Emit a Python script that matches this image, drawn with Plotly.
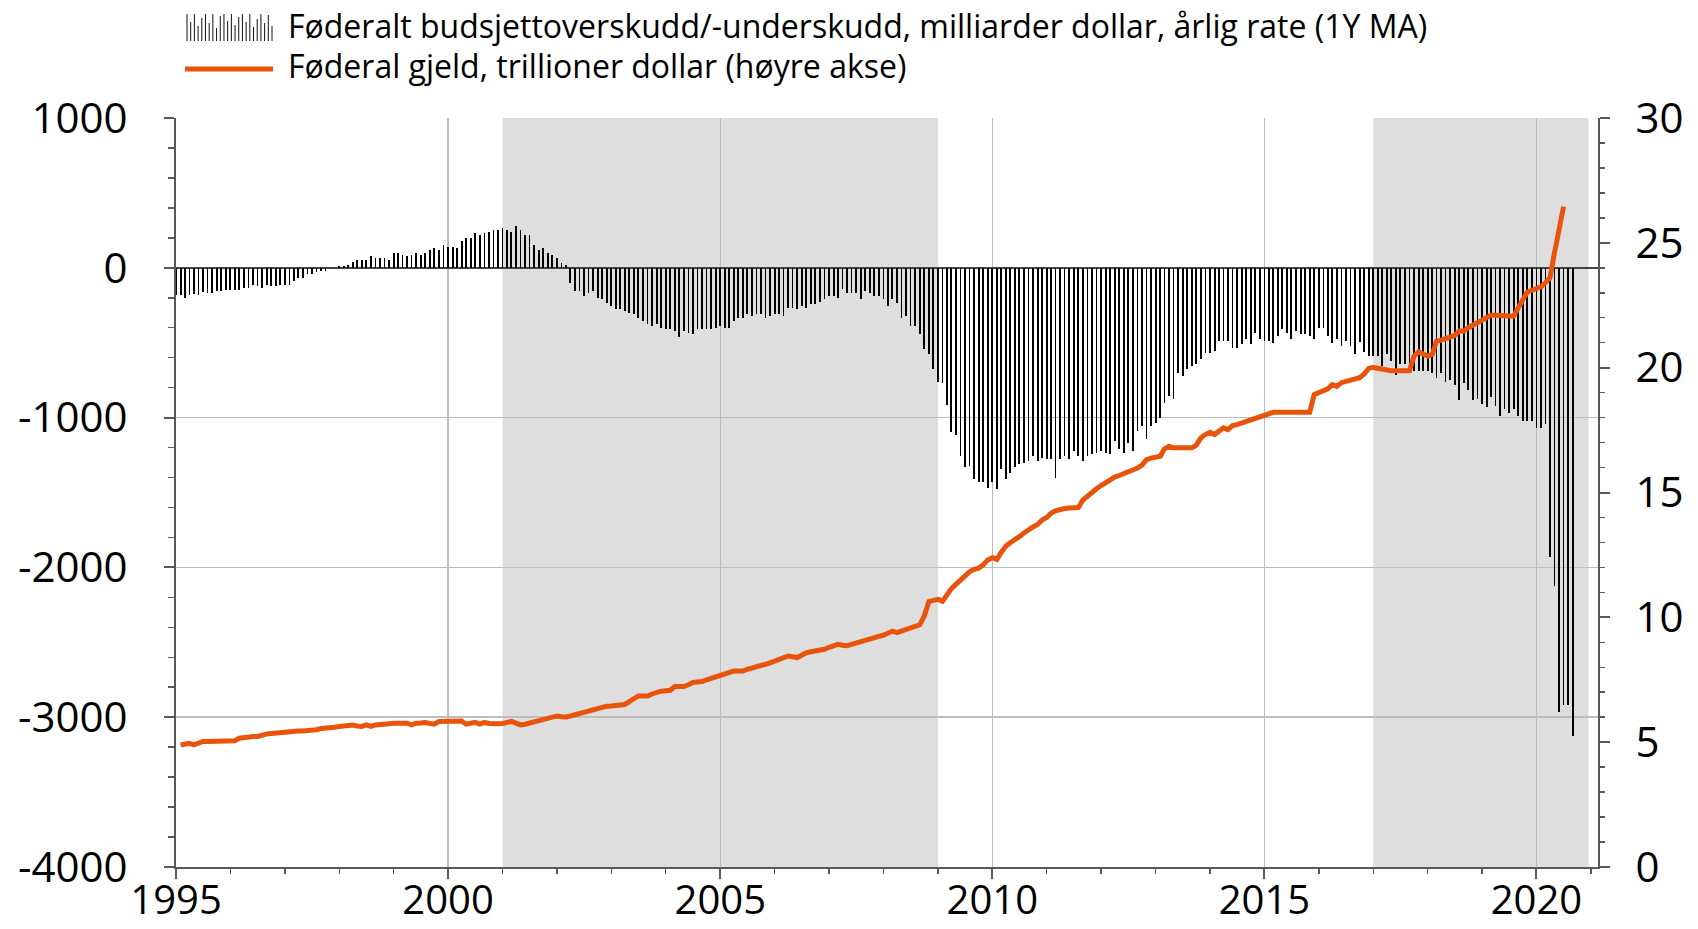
import pandas as pd
import plotly.graph_objects as go

# ---------------- data ----------------
deficit_1995 = [-180, -180, -202, -180, -176, -180, -164, -169, -169, -158, -158, -147]
deficit_1996 = [-147, -147, -147, -136, -136, -113, -124, -136, -113, -124, -120, -113]
deficit_1997 = [-113, -113, -91, -69, -69, -40, -40, -31, -18, -22, -3, 2]
deficit_1998 = [11, 11, 20, 42, 53, 53, 53, 76, 67, 67, 67, 53]
deficit_1999 = [98, 98, 87, 76, 87, 98, 87, 98, 120, 131, 120, 153]
deficit_2000 = [142, 142, 131, 176, 198, 198, 231, 220, 231, 242, 253, 253]
deficit_2001 = [264, 253, 242, 276, 253, 222, 220, 153, 120, 131, 98, 87]
deficit_2002 = [64, 31, 20, -100, -155, -155, -190, -167, -155, -200, -210, -233]
deficit_2003 = [-255, -278, -278, -289, -300, -311, -333, -355, -378, -389, -378, -400]
deficit_2004 = [-411, -411, -422, -460, -422, -433, -444, -411, -411, -407, -411, -400]
deficit_2005 = [-389, -400, -400, -355, -333, -333, -311, -322, -311, -311, -333, -322]
deficit_2006 = [-311, -311, -322, -267, -267, -278, -255, -267, -244, -244, -229, -211]
deficit_2007 = [-189, -189, -200, -144, -167, -167, -167, -211, -155, -167, -189, -189]
deficit_2008 = [-211, -255, -211, -233, -333, -322, -389, -389, -444, -544, -578, -678]
deficit_2009 = [-762, -771, -915, -1096, -1118, -1255, -1333, -1322, -1411, -1433, -1427, -1467]
deficit_2010 = [-1433, -1478, -1344, -1411, -1367, -1333, -1311, -1300, -1293, -1255, -1289, -1267]
deficit_2011 = [-1278, -1278, -1400, -1278, -1255, -1278, -1222, -1255, -1289, -1255, -1244, -1233]
deficit_2012 = [-1222, -1233, -1244, -1155, -1211, -1233, -1167, -1222, -1089, -1055, -1144, -1055]
deficit_2013 = [-1033, -1000, -900, -855, -878, -700, -722, -678, -656, -644, -611, -567]
deficit_2014 = [-567, -556, -489, -489, -489, -533, -533, -511, -478, -511, -433, -478]
deficit_2015 = [-489, -489, -500, -456, -411, -433, -478, -422, -444, -444, -456, -478]
deficit_2016 = [-400, -400, -456, -500, -478, -522, -489, -522, -578, -494, -563, -586]
deficit_2017 = [-586, -586, -655, -575, -621, -713, -644, -644, -667, -690, -690, -690]
deficit_2018 = [-690, -701, -736, -701, -759, -747, -782, -885, -770, -816, -885, -874]
deficit_2019 = [-908, -931, -862, -920, -989, -943, -966, -943, -989, -1023, -1023, -1023]
deficit_2020 = [-1069, -1069, -1046, -1931, -2126, -2966, -2920, -2920, -3127]

debt_1995 = [4.89, 4.92, 4.95, 4.89, 4.95, 5.03, 5.03, 5.03, 5.03, 5.03, 5.03]  # from Feb
debt_1996 = [5.03, 5.06, 5.16, 5.20, 5.23, 5.23, 5.23, 5.30, 5.33, 5.35, 5.37, 5.39]
debt_1997 = [5.42, 5.45, 5.45, 5.45, 5.45, 5.45, 5.45, 5.50, 5.55, 5.55, 5.55, 5.60]
debt_1998 = [5.63, 5.65, 5.67, 5.69, 5.65, 5.63, 5.69, 5.63, 5.69, 5.69, 5.72, 5.74]
debt_1999 = [5.76, 5.76, 5.76, 5.76, 5.69, 5.76, 5.77, 5.79, 5.75, 5.72, 5.83, 5.83]
debt_2000 = [5.83, 5.84, 5.85, 5.85, 5.72, 5.76, 5.79, 5.72, 5.79, 5.75, 5.72, 5.74]
debt_2001 = [5.75, 5.78, 5.83, 5.76, 5.69, 5.72, 5.76, 5.82, 5.87, 5.92, 5.96, 6.00]
debt_2002 = [6.05, 6.02, 6.01, 6.05, 6.10, 6.16, 6.21, 6.26, 6.32, 6.36, 6.40, 6.44]
debt_2003 = [6.45, 6.47, 6.49, 6.51, 6.62, 6.75, 6.85, 6.85, 6.85, 6.93, 7.01, 7.04]
debt_2004 = [7.06, 7.08, 7.23, 7.23, 7.23, 7.30, 7.39, 7.41, 7.43, 7.50, 7.56, 7.61]
debt_2005 = [7.65, 7.72, 7.80, 7.85, 7.85, 7.85, 7.92, 7.96, 8.00, 8.05, 8.12, 8.18]
debt_2006 = [8.25, 8.30, 8.36, 8.45, 8.42, 8.39, 8.48, 8.58, 8.62, 8.65, 8.68, 8.72]
debt_2007 = [8.80, 8.88, 8.92, 8.88, 8.86, 8.92, 8.98, 9.03, 9.08, 9.14, 9.20, 9.24]
debt_2008 = [9.28, 9.36, 9.45, 9.39, 9.45, 9.52, 9.58, 9.64, 9.70, 10.05, 10.63, 10.68]
debt_2009 = [10.72, 10.65, 10.90, 11.15, 11.32, 11.50, 11.65, 11.82, 11.92, 11.97, 12.10, 12.30]
debt_2010 = [12.39, 12.32, 12.60, 12.85, 12.99, 13.10, 13.23, 13.38, 13.52, 13.62, 13.72, 13.90]
debt_2011 = [14.00, 14.18, 14.27, 14.33, 14.36, 14.38, 14.40, 14.40, 14.70, 14.85, 15.05, 15.15]
debt_2012 = [15.28, 15.40, 15.52, 15.62, 15.68, 15.75, 15.82, 15.90, 15.98, 16.10, 16.32, 16.38]
debt_2013 = [16.42, 16.45, 16.75, 16.85, 16.79, 16.79, 16.79, 16.79, 16.79, 16.90, 17.19, 17.32]
debt_2014 = [17.41, 17.32, 17.45, 17.59, 17.52, 17.68, 17.72, 17.78, 17.85, 17.92, 18.00, 18.06]
debt_2015 = [18.12, 18.18, 18.21, 18.21, 18.21, 18.21, 18.21, 18.21, 18.21, 18.21, 18.21, 18.92]
debt_2016 = [19.00, 19.05, 19.15, 19.32, 19.25, 19.40, 19.45, 19.50, 19.55, 19.60, 19.75, 19.97]
debt_2017 = [20.01, 19.97, 19.94, 19.88, 19.88, 19.88, 19.88, 19.88, 19.88, 20.46, 20.64, 20.55]
debt_2018 = [20.46, 20.53, 21.06, 21.10, 21.15, 21.22, 21.29, 21.47, 21.47, 21.60, 21.71, 21.82]
debt_2019 = [21.92, 22.02, 22.10, 22.10, 22.08, 22.06, 22.06, 22.06, 22.40, 22.70, 23.03, 23.10]
debt_2020 = [23.15, 23.24, 23.40, 23.60, 24.60, 25.50, 26.45]

left_tickvals = [-4000, -3000, -2000, -1000, 0, 1000]
left_ticktext = ["-4000", "-3000", "-2000", "-1000", "0", "1000"]
shade_periods = [("2001-01-01", "2009-01-01"), ("2017-01-01", "2020-12-15")]
legend_labels = ["Føderalt budsjettoverskudd/-underskudd, milliarder dollar, årlig rate (1Y MA)",
                 "Føderal gjeld, trillioner dollar (høyre akse)"]

deficit = (deficit_1995 + deficit_1996 + deficit_1997 + deficit_1998 + deficit_1999 + deficit_2000
           + deficit_2001 + deficit_2002 + deficit_2003 + deficit_2004 + deficit_2005 + deficit_2006
           + deficit_2007 + deficit_2008 + deficit_2009 + deficit_2010 + deficit_2011 + deficit_2012
           + deficit_2013 + deficit_2014 + deficit_2015 + deficit_2016 + deficit_2017 + deficit_2018
           + deficit_2019 + deficit_2020)
debt = (debt_1995 + debt_1996 + debt_1997 + debt_1998 + debt_1999 + debt_2000 + debt_2001
        + debt_2002 + debt_2003 + debt_2004 + debt_2005 + debt_2006 + debt_2007 + debt_2008
        + debt_2009 + debt_2010 + debt_2011 + debt_2012 + debt_2013 + debt_2014 + debt_2015
        + debt_2016 + debt_2017 + debt_2018 + debt_2019 + debt_2020)

deficit_dates = pd.date_range("1995-01-01", periods=len(deficit), freq="MS")
debt_dates = pd.date_range("1995-02-01", periods=len(debt), freq="MS")

# ---------------- style ----------------
FONT = "'Open Sans', Lato, sans-serif"
ORANGE = "#E9540D"
AXIS = "#595959"
GRID = "#BDBDBD"
W, H = 1698, 929
L, R, T, B = 176, 100, 118, 62
PW, PH = W - L - R, H - T - B


def px(xp):                  # screen pixel -> paper x
    return (xp - L) / PW


def py(yp):                  # screen pixel -> paper y
    return (H - B - yp) / PH


fig = go.Figure()
fig.add_trace(go.Bar(x=deficit_dates, y=deficit, width=12 * 86400000,
                     marker=dict(color="#000000", line=dict(width=0)),
                     showlegend=False, yaxis="y", hoverinfo="skip"))
fig.add_trace(go.Scatter(x=debt_dates, y=debt, mode="lines",
                         line=dict(color=ORANGE, width=5), showlegend=False, yaxis="y2",
                         hoverinfo="skip"))

shapes = []
for s, e in shade_periods:
    shapes.append(dict(type="rect", xref="x", yref="paper", x0=s, x1=e, y0=0, y1=1,
                       fillcolor="#DEDEDE", line=dict(width=0), layer="below"))

# legend: bar icon
icon_heights = [27, 19, 27, 15, 23, 27, 18, 27, 13, 25, 27, 20, 27, 16, 24, 27, 19, 27, 14, 22, 27, 18, 26, 15]
x_start, x_end = 187, 272
n = len(icon_heights)
for i, h in enumerate(icon_heights):
    xx = x_start + i * (x_end - x_start) / (n - 1)
    shapes.append(dict(type="line", xref="paper", yref="paper", x0=px(xx), x1=px(xx),
                       y0=py(41), y1=py(41 - h), line=dict(color="#111111", width=1)))
shapes.append(dict(type="line", xref="paper", yref="paper", x0=px(185), x1=px(273),
                   y0=py(69), y1=py(69), line=dict(color=ORANGE, width=5)))

annotations = [
    dict(xref="paper", yref="paper", x=px(286), y=py(25), xanchor="left", yanchor="middle",
         text=legend_labels[0], showarrow=False, font=dict(family=FONT, size=32, color="#000")),
    dict(xref="paper", yref="paper", x=px(286), y=py(65), xanchor="left", yanchor="middle",
         text=legend_labels[1], showarrow=False, font=dict(family=FONT, size=32, color="#000")),
]

TICKFONT = dict(size=42, family=FONT, color="#000")
XTICKFONT = dict(size=40, family=FONT, color="#000")
fig.update_layout(
    width=W, height=H,
    margin=dict(l=L, r=R, t=T, b=B, pad=0, autoexpand=False),
    paper_bgcolor="white", plot_bgcolor="white",
    font=dict(family=FONT, color="#000"),
    shapes=shapes, annotations=annotations,
    bargap=0, hovermode=False, dragmode=False,
    xaxis=dict(type="date", range=["1995-01-01", "2021-02-17"], automargin=False,
               showline=True, linecolor=AXIS, linewidth=2,
               ticks="outside", ticklen=10, tickwidth=2, tickcolor=AXIS,
               tick0="1995-01-01", dtick="M60", tickformat="%Y",
               tickfont=XTICKFONT, ticklabelstandoff=-13,
               showgrid=True, gridcolor=GRID, gridwidth=1.5, zeroline=False,
               minor=dict(dtick="M12", tick0="1995-01-01", ticks="outside", ticklen=5,
                          tickwidth=1.5, tickcolor=AXIS, showgrid=False)),
    yaxis=dict(range=[-4000, 1000], tickmode="array", tickvals=left_tickvals, ticktext=left_ticktext,
               automargin=False,
               showline=True, linecolor=AXIS, linewidth=2,
               ticks="outside", ticklen=10, tickwidth=2, tickcolor=AXIS,
               tickfont=TICKFONT, ticklabelstandoff=28,
               showgrid=True, gridcolor=GRID, gridwidth=1.5,
               zeroline=True, zerolinecolor="#444444", zerolinewidth=2,
               minor=dict(tickmode="linear", tick0=0, dtick=200, ticks="outside", ticklen=6,
                          tickwidth=1.5, tickcolor=AXIS, showgrid=False)),
    yaxis2=dict(range=[0, 30], overlaying="y", side="right", tickmode="linear", tick0=0, dtick=5,
                automargin=False,
                showline=True, linecolor=AXIS, linewidth=2,
                ticks="outside", ticklen=10, tickwidth=2, tickcolor=AXIS,
                tickfont=TICKFONT, ticklabelstandoff=17,
                showgrid=False, zeroline=False,
                minor=dict(tickmode="linear", tick0=0, dtick=1, ticks="outside", ticklen=5,
                           tickwidth=1.5, tickcolor=AXIS, showgrid=False)),
)

# remove the page's default 8px body margin so the figure fills the window exactly
fig.write_html("out.html", config={"displayModeBar": False, "staticPlot": True},
               post_script="document.body.style.margin='0px';")
